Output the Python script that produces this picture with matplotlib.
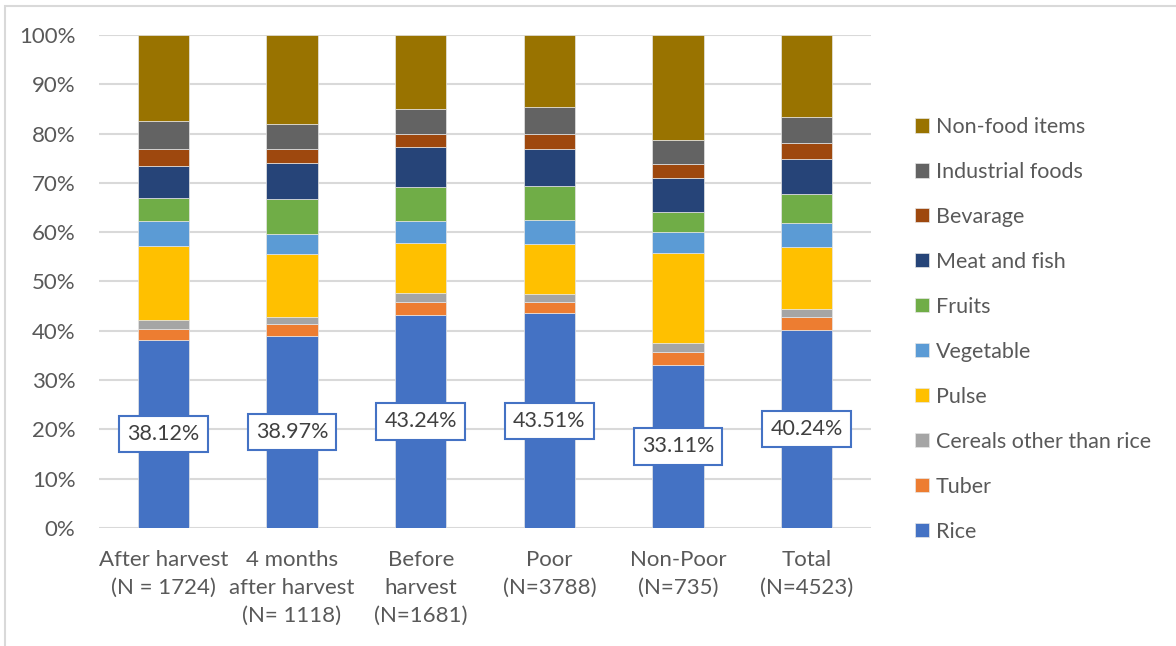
import numpy as np
import matplotlib
matplotlib.use("Agg")
import matplotlib.pyplot as plt
from matplotlib.patches import Rectangle

plt.rcParams["font.family"] = ["Lato", "DejaVu Sans"]

groups = [
    "After harvest\n(N = 1724)",
    "4 months\nafter harvest\n(N= 1118)",
    "Before\nharvest\n(N=1681)",
    "Poor\n(N=3788)",
    "Non-Poor\n(N=735)",
    "Total\n(N=4523)",
]

# share of spending (%) per item, one value per group
rice = [38.12, 38.97, 43.24, 43.51, 33.11, 40.24]
tuber = [2.28, 2.43, 2.66, 2.39, 2.49, 2.46]
cereals = [1.7, 1.3, 1.8, 1.6, 1.9, 1.7]
pulse = [15.0, 12.8, 10.1, 10.0, 18.3, 12.6]
vegetable = [5.1, 4.1, 4.4, 4.9, 4.2, 4.8]
fruits = [4.7, 7.1, 7.0, 7.0, 4.1, 5.9]
meat_fish = [6.5, 7.3, 8.0, 7.4, 6.9, 7.2]
bevarage = [3.4, 2.8, 2.7, 3.1, 2.8, 3.1]
industrial = [5.7, 5.1, 5.0, 5.5, 4.8, 5.3]
non_food = [17.5, 18.1, 15.1, 14.6, 21.4, 16.7]

series = [
    ("Rice", rice, "#4472C4"),
    ("Tuber", tuber, "#ED7D31"),
    ("Cereals other than rice", cereals, "#A5A5A5"),
    ("Pulse", pulse, "#FFC000"),
    ("Vegetable", vegetable, "#5B9BD5"),
    ("Fruits", fruits, "#70AD47"),
    ("Meat and fish", meat_fish, "#264478"),
    ("Bevarage", bevarage, "#9E480E"),
    ("Industrial foods", industrial, "#636363"),
    ("Non-food items", non_food, "#997300"),
]

text_col = "#595959"

fig = plt.figure(figsize=(11.76, 6.46), dpi=100)
ax = fig.add_axes([0.0842, 0.1827, 0.6565, 0.7632])

# light outer frame
fig.patches.append(Rectangle((5 / 1176, -0.01), 1.2, 1 - 6 / 646 + 0.01,
                             transform=fig.transFigure, fill=False,
                             edgecolor="#D9D9D9", linewidth=1.5))

x = np.arange(len(groups))
bottom = np.zeros(len(groups))
for name, vals, col in series:
    vals = np.array(vals)
    ax.bar(x, vals, 0.40, bottom=bottom, color=col, label=name,
           edgecolor="#E6E6E6", linewidth=0.5, zorder=3)
    bottom += vals

# rice share labels in the middle of the rice segment
for xi, v in zip(x, rice):
    ax.text(xi, v / 2, f"{v:.2f}%", ha="center", va="center", fontsize=15.5,
            color="#404040", zorder=5,
            bbox=dict(boxstyle="square,pad=0.38", fc="white",
                      ec="#4472C4", lw=1.5))

ax.set_xlim(-0.5, len(groups) - 0.5)
ax.set_ylim(0, 100)
ax.set_yticks(np.arange(0, 101, 10))
ax.set_yticklabels([f"{t}%" for t in range(0, 101, 10)])
ax.set_xticks(x)
ax.set_xticklabels(groups, linespacing=1.5)
ax.tick_params(axis="both", length=0, colors=text_col, labelsize=16)
ax.tick_params(axis="y", pad=17)
ax.tick_params(axis="x", pad=16)
ax.yaxis.grid(True, color="#D9D9D9", linewidth=1.5, zorder=0)
ax.set_axisbelow(True)
for s in ax.spines.values():
    s.set_visible(False)

handles, labels = ax.get_legend_handles_labels()
leg = fig.legend(handles[::-1], labels[::-1], loc="upper left",
                 bbox_to_anchor=(0.762, 0.849), frameon=False,
                 fontsize=15.5, labelcolor=text_col, handlelength=0.65,
                 handleheight=0.65, handletextpad=0.3, labelspacing=1.16)

fig.savefig("out.png", dpi=100)
